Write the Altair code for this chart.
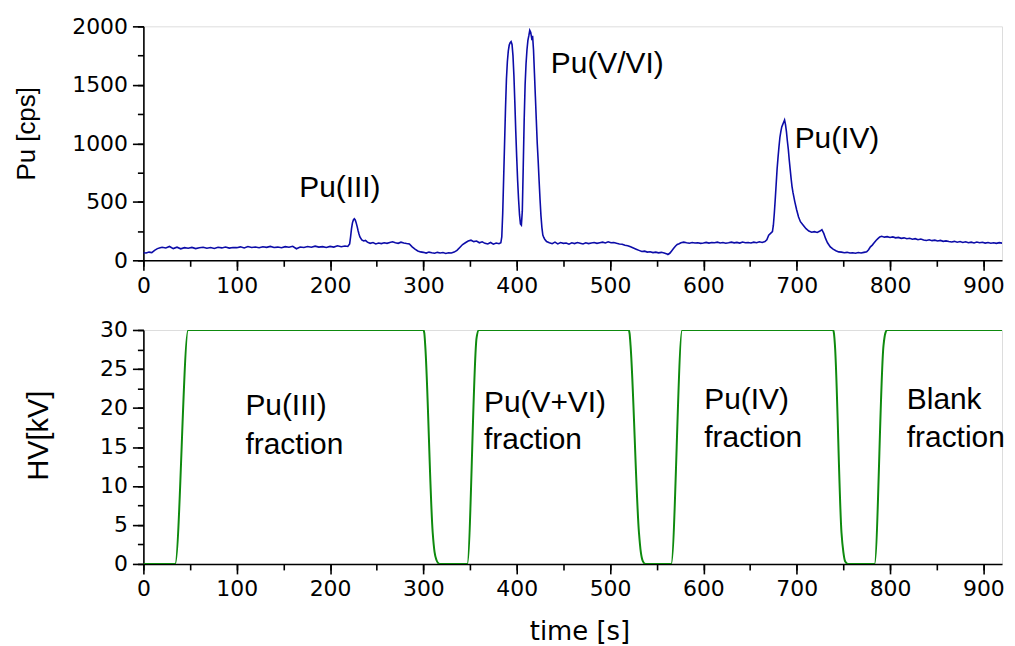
import altair as alt
import pandas as pd

# ---------------- data ----------------
t_pu = [0, 3, 6, 9, 12, 15, 18,
        20, 24, 28, 32, 36, 40, 44, 48, 52, 56, 60, 64, 68, 72, 76, 80, 84, 88, 92, 96,
        100, 104, 108, 112, 116, 120, 124, 128, 132, 136, 140, 144, 148, 152, 156, 160,
        164, 168, 172, 176, 180, 184, 188, 192, 196, 200, 204, 208, 212, 216, 219,
        221, 222, 223, 224, 225, 226, 227, 228, 229, 230, 231, 232, 234, 236, 238,
        240, 243, 246, 249, 252, 255, 258, 261, 264, 267, 270, 273, 276, 279, 282, 285,
        288, 291, 294, 297, 300, 303, 306, 309, 312, 315, 318, 321, 324, 327, 330, 333,
        336, 339, 342, 345, 348, 351, 354, 357, 360, 363, 366, 369, 372, 375, 378, 381, 383,
        384, 385, 386, 387, 388, 389, 390, 391, 392, 393, 394, 395, 396, 397, 398, 399,
        400, 401, 402, 403, 404, 405, 406, 407, 408, 409, 410, 411, 412, 413, 414, 415,
        416, 417, 418, 419, 420, 421, 422, 423, 424, 425, 426, 427, 428, 429, 430, 432,
        435, 438, 441, 444, 447, 450, 453, 456, 459, 462, 465, 468, 471, 474, 477, 480,
        483, 486, 489, 492, 495, 498, 501, 504, 507,
        510, 513, 516, 519, 522, 525, 528, 531, 534, 537, 540, 543, 546, 549, 552, 555,
        558, 561, 562, 564,
        566, 568, 570, 572, 574, 576, 579, 582, 585, 588, 591, 594, 597, 600, 603, 606,
        609, 612, 615, 618, 621, 624, 627, 630, 633, 636, 639, 642, 645, 648, 651, 654,
        657, 660, 663, 666, 668, 670, 672, 674,
        675, 676, 677, 678, 679, 680, 681, 682, 683, 684, 685, 686, 687, 688, 689, 690,
        691, 692, 693, 694, 695, 696, 698, 700, 702, 704, 707, 710, 713, 716, 719, 722,
        725, 727, 729, 731, 733, 736, 739, 742, 745, 748, 751, 754, 757, 760, 763, 766,
        769, 772, 775,
        777, 779, 781, 783, 785, 787, 789, 791, 794, 797, 800, 803, 806, 809, 812, 815,
        818, 821, 824, 827, 830, 833, 836, 839, 842, 845, 848, 851, 854, 857, 860, 863,
        866, 869, 872, 875, 878, 881, 884, 887, 890, 893, 896, 899, 902, 905, 908, 911,
        914, 917, 920, 923, 926, 928]
pu = [65, 62, 70, 66, 85, 100, 108,
      112, 105, 118, 100, 112, 98, 108, 103, 110, 100, 107, 112, 103, 109, 101, 111, 106, 113, 104, 110,
      108, 115, 106, 118, 110, 114, 107, 116, 111, 119, 109, 113, 108, 117, 112, 120,
      99, 114, 110, 118, 112, 121, 113, 117, 110, 119, 113, 124, 116, 122, 118,
      140, 200, 270, 320, 345, 355, 345, 320, 290, 255, 225, 200, 175, 165, 170,
      155, 145, 152, 140, 148, 143, 150, 145, 153, 158, 150, 145, 155, 148, 143, 140,
      115, 95, 80, 72, 68, 62, 70, 64, 60, 68, 63, 66, 59, 65, 62, 70,
      85, 110, 135, 150, 165, 172, 160, 165, 150, 158, 145, 140, 152, 138, 148, 142, 150,
      200, 400, 700, 1000, 1300, 1550, 1700, 1790, 1840, 1860, 1870, 1845, 1750, 1580, 1350, 1100,
      880, 680, 520, 390, 310, 300, 420, 800, 1200, 1500, 1680, 1800, 1880, 1920, 1966, 1950,
      1900, 1920, 1800, 1600, 1400, 1200, 1000, 850, 680, 520, 380, 280, 215, 195, 180, 160,
      150, 142, 155, 140, 152, 145, 148, 138, 150, 143, 152, 146, 140, 150, 143, 148,
      152, 145, 150, 155, 148, 158, 150, 152, 145,
      140, 138, 128, 125, 115, 105, 95, 85, 75, 78, 70, 73, 66, 70, 64, 68,
      62, 55, 50, 60,
      80, 100, 120, 135, 142, 150, 155, 150, 146, 152, 148, 150, 145, 148, 153, 147,
      152, 150, 155, 148, 152, 146, 150, 155, 149, 153, 147, 156, 150, 152, 148, 155,
      150, 158, 152, 160, 175, 215, 230, 245,
      300, 400, 520, 650, 780, 880, 970, 1050, 1100, 1140, 1160, 1180, 1200, 1160, 1100, 1020,
      950, 860, 780, 700, 630, 580, 500, 430, 370, 330, 300, 270, 250, 240, 245, 238,
      250, 262, 230, 185, 150, 115, 95, 82, 72, 70, 65, 68, 62, 65, 60, 66,
      63, 68, 72,
      90, 115, 130, 150, 170, 185, 200, 205, 198, 202, 195, 200, 192, 196, 188, 192,
      184, 188, 180, 185, 176, 182, 174, 170, 175, 168, 172, 165, 170, 162, 166, 160,
      156, 162, 155, 160, 152, 158, 150, 155, 148, 156, 150, 154, 147, 152, 146, 150,
      145, 151, 147, 152, 148, 150]

t_hv = [0, 34, 48, 300, 301, 302, 310, 312, 314, 316, 318,
        347, 357, 359.5, 520, 521, 522, 531, 533, 535, 538,
        565.5, 577.3, 739, 740, 741, 748, 750, 752, 755,
        783.4, 793, 795, 797, 928]
hv = [0, 0, 30, 30, 29.6, 28, 4, 1.5, 0.5, 0.1, 0,
      0, 29, 30, 30, 29.5, 28, 4, 1.5, 0.4, 0,
      0, 30, 30, 29.5, 28, 4, 1.5, 0.3, 0,
      0, 28, 29.6, 30, 30]

top_labels = ["Pu(III)", "Pu(V/VI)", "Pu(IV)"]
top_lab_x = [167, 436.6, 697.8]
top_lab_y = [539, 1602, 964]

bot_labels = ["Pu(III)", "fraction", "Pu(V+VI)", "fraction", "Pu(IV)", "fraction", "Blank", "fraction"]
bot_lab_x = [109.3, 109.3, 365, 365, 601, 601, 818, 818]
bot_lab_y = [19.13, 14.14, 19.48, 14.78, 19.9, 15.0, 19.9, 15.0]

x_major = [0, 100, 200, 300, 400, 500, 600, 700, 800, 900]
x_minor = [0, 50, 100, 150, 200, 250, 300, 350, 400, 450, 500, 550, 600, 650, 700, 750, 800, 850, 900]
ytop_major = [0, 500, 1000, 1500, 2000]
ytop_minor = [0, 250, 500, 750, 1000, 1250, 1500, 1750, 2000]
ybot_major = [0, 5, 10, 15, 20, 25, 30]
ybot_minor = [0, 2.5, 5, 7.5, 10, 12.5, 15, 17.5, 20, 22.5, 25, 27.5, 30]

# ---------------- style ----------------
BLUE = "#0c0ca8"
GREEN = "#0e8a0e"
LBL_FONT = "DejaVu Sans"
TXT_FONT = "Liberation Sans"
X_END = 920
PLOT_W = 862.5

xscale = alt.Scale(domain=[0, X_END], nice=False, zero=False)
ytop_scale = alt.Scale(domain=[0, 2000], nice=False)
ybot_scale = alt.Scale(domain=[0, 30], nice=False)


def major_axis(orient, values, title=None, **kw):
    args = dict(orient=orient, values=values, grid=False, domain=True, domainColor="black",
                domainWidth=1.6, ticks=True, tickColor="black", tickWidth=1.6,
                tickSize=11 if orient == "left" else 10, labels=True, format="d",
                labelFont=LBL_FONT, labelFontSize=22, labelColor="black",
                labelPadding=5, labelFlush=False, labelOverlap=False)
    if title is not None:
        args.update(title=title, titleColor="black", titleFontWeight="normal")
    else:
        args.update(title=None)
    args.update(kw)
    return alt.Axis(**args)


def minor_axis(orient, values):
    return alt.Axis(orient=orient, values=values, grid=False, domain=False, labels=False,
                    ticks=True, tickColor="black", tickWidth=1.6, tickSize=6, title=None)


# ---------------- top panel ----------------
top_df = pd.DataFrame({"t": t_pu, "v": pu})
top_ann = pd.DataFrame({"x": top_lab_x, "y": top_lab_y, "label": top_labels})

top_minor = alt.Chart(top_df).mark_line(opacity=0).encode(
    x=alt.X("t:Q", scale=xscale, axis=minor_axis("bottom", x_minor)),
    y=alt.Y("v:Q", scale=ytop_scale, axis=minor_axis("left", ytop_minor)),
)
top_line = alt.Chart(top_df).mark_line(color=BLUE, strokeWidth=1.6, clip=True).encode(
    x=alt.X("t:Q", scale=xscale, axis=major_axis("bottom", x_major)),
    y=alt.Y("v:Q", scale=ytop_scale,
            axis=major_axis("left", ytop_major, "Pu [cps]", titleFont=TXT_FONT,
                            titleFontSize=26, titleX=-109.5, titleY=107.5,
                            titleBaseline="alphabetic", titleAlign="center", titleAngle=270)),
)
top_text = alt.Chart(top_ann).mark_text(font=TXT_FONT, fontSize=30, color="black",
                                        align="left", baseline="alphabetic").encode(
    x=alt.X("x:Q", scale=xscale, axis=None),
    y=alt.Y("y:Q", scale=ytop_scale, axis=None),
    text="label:N",
)
top = alt.layer(top_minor, top_line, top_text).resolve_axis(
    x="independent", y="independent").properties(width=PLOT_W, height=235)

# ---------------- bottom panel ----------------
bot_df = pd.DataFrame({"t": t_hv, "v": hv})
bot_ann = pd.DataFrame({"x": bot_lab_x, "y": bot_lab_y, "label": bot_labels})

bot_minor = alt.Chart(bot_df).mark_line(opacity=0).encode(
    x=alt.X("t:Q", scale=xscale, axis=minor_axis("bottom", x_minor)),
    y=alt.Y("v:Q", scale=ybot_scale, axis=minor_axis("left", ybot_minor)),
)
bot_line = alt.Chart(bot_df).mark_line(color=GREEN, strokeWidth=2, clip=True,
                                       interpolate="monotone").encode(
    x=alt.X("t:Q", scale=xscale,
            axis=major_axis("bottom", x_major, "time [s]", titleFont=LBL_FONT,
                            titleFontSize=26, titleX=438, titleY=76, titleAlign="center",
                            titleBaseline="alphabetic")),
    y=alt.Y("v:Q", scale=ybot_scale,
            axis=major_axis("left", ybot_major, "HV[kV]", titleFont=TXT_FONT,
                            titleFontSize=29, titleX=-96, titleY=105.6,
                            titleBaseline="alphabetic", titleAlign="center", titleAngle=270)),
)
bot_text = alt.Chart(bot_ann).mark_text(font=TXT_FONT, fontSize=30, color="black",
                                        align="left", baseline="alphabetic").encode(
    x=alt.X("x:Q", scale=xscale, axis=None),
    y=alt.Y("y:Q", scale=ybot_scale, axis=None),
    text="label:N",
)
bottom = alt.layer(bot_minor, bot_line, bot_text).resolve_axis(
    x="independent", y="independent").properties(width=PLOT_W, height=235)

chart = alt.vconcat(top, bottom, spacing=21).properties(
    padding={"left": 5, "top": 5, "right": -3, "bottom": 0}
).configure_view(stroke=None).configure(background="white")

chart.save("out.html", embed_options={"renderer": "svg", "actions": False})
